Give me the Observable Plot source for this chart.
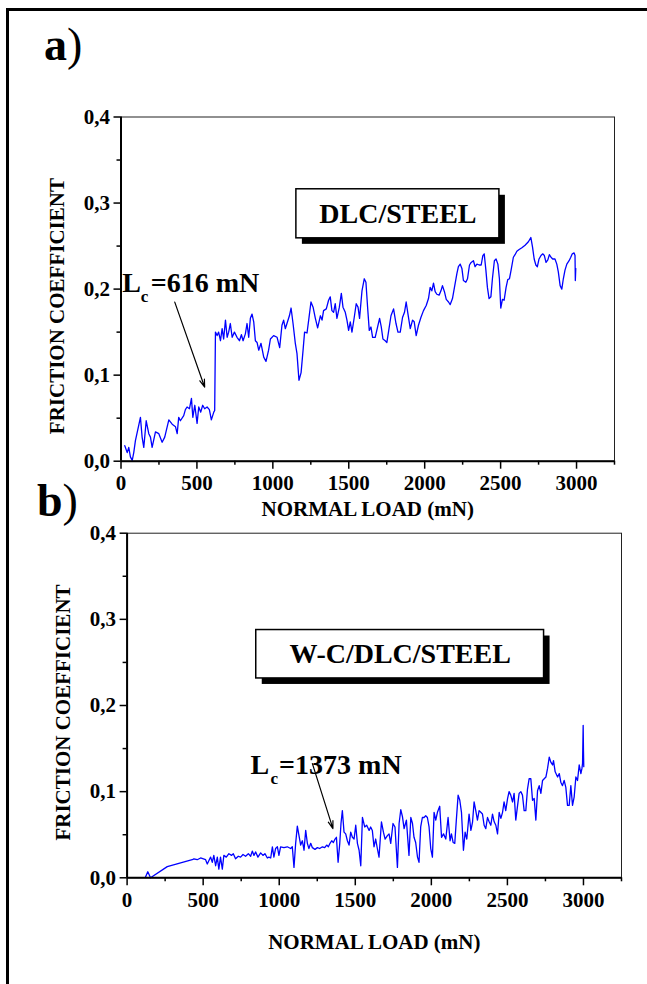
<!DOCTYPE html>
<html><head><meta charset="utf-8">
<script src="https://cdn.jsdelivr.net/npm/d3@7"></script>
<script src="https://cdn.jsdelivr.net/npm/@observablehq/plot@0.6"></script>
<style>
html,body{margin:0;background:#fff;overflow:hidden;width:647px;height:984px;}
#wrap{position:relative;width:647px;height:984px;overflow:hidden;background:#fff;font-family:"Liberation Serif","Times New Roman",serif;}
#bleft{position:absolute;left:6px;top:8px;width:3px;height:990px;background:#000;}
#btop{position:absolute;left:6px;top:8px;width:660px;height:3px;background:#000;}
.svgbox{position:absolute;left:0;width:647px;overflow:hidden;}
.panel{position:absolute;font-size:46px;font-weight:bold;line-height:46px;white-space:nowrap;}
.panel span{font-weight:normal;}
</style>
</head><body>
<div id="wrap">
  <div id="bleft"></div>
  <div id="btop"></div>
  <div class="svgbox" id="pa" style="top:0px;height:530px"></div>
  <div class="svgbox" id="pb" style="top:480px;height:504px"></div>
  <div class="panel" style="left:44px;top:22px">a<span>)</span></div>
  <div class="panel" style="left:37px;top:478px">b<span>)</span></div>
</div>
<script>
// ---- data: panel a (DLC/STEEL) ----
const loadA = [25,41,51,62,74,84,95,128,139,150,166,183,194,205,227,249,271,288,304,315,337,359,370,380,391,413,424,435,451,464,473,486,501,512,525,538,551,567,582,595,611,617,
622,633,643,655,666,676,688,699,709,720,732,747,764,780,793,804,819,830,841,852,863,874,885,896,907,922,940,955,972,
984,1005,1028,1045,1060,1071,1082,1093,1109,1120,1133,1148,1159,1172,1186,1199,1209,1225,1236,1251,1265,1280,1295,1313,1324,1334,1352,1367,1378,1389,1400,1411,1422,1438,1451,1462,1477,1488,1499,1510,1521,1536,1549,1561,1571,1587,1602,1613,1624,1635,1646,1657,1674,1690,1703,1714,1725,1740,1751,1765,1778,1795,1811,1824,1839,1854,1867,1878,1890,1905,1920,1931,1944,1959,1975,
1992,2010,2025,2036,2047,2058,2069,2080,2095,2107,2117,2130,2142,2157,2168,2183,2196,2212,2222,2234,2245,2255,2271,2282,2295,2306,2321,2332,2344,2359,2372,2383,2392,2403,2413,2424,2436,2446,2459,2470,2482,2492,2501,2512,2523,2536,2547,2558,2569,2584,2595,2607,2622,2640,2661,2683,2699,2710,2721,2732,2742,2753,2766,2778,2788,2799,2811,2821,2832,2843,2858,2870,2880,2892,2903,2913,2924,2936,2951,2962,2972,2984,2990,2992,2995];
const muA = [0.018,0.010,0.016,0.005,0.001,0.010,0.024,0.051,0.028,0.016,0.047,0.032,0.028,0.016,0.034,0.032,0.022,0.028,0.040,0.048,0.043,0.040,0.032,0.051,0.047,0.053,0.060,0.063,0.061,0.073,0.051,0.065,0.044,0.063,0.057,0.065,0.061,0.063,0.060,0.048,0.057,0.059,
0.150,0.146,0.150,0.140,0.154,0.142,0.164,0.144,0.150,0.160,0.144,0.150,0.144,0.140,0.147,0.140,0.148,0.160,0.144,0.166,0.171,0.162,0.140,0.138,0.129,0.137,0.121,0.116,0.129,
0.142,0.146,0.144,0.132,0.158,0.164,0.154,0.160,0.169,0.178,0.160,0.137,0.125,0.094,0.103,0.129,0.150,0.149,0.164,0.185,0.179,0.166,0.155,0.169,0.164,0.175,0.177,0.187,0.191,0.175,0.173,0.183,0.166,0.179,0.195,0.179,0.173,0.164,0.152,0.162,0.150,0.167,0.183,0.179,0.166,0.198,0.212,0.208,0.179,0.152,0.156,0.144,0.144,0.156,0.166,0.156,0.142,0.140,0.138,0.154,0.169,0.177,0.160,0.150,0.150,0.167,0.173,0.185,0.171,0.154,0.164,0.162,0.146,0.158,0.167,
0.175,0.181,0.189,0.202,0.198,0.207,0.197,0.194,0.193,0.198,0.204,0.197,0.188,0.185,0.182,0.189,0.202,0.218,0.226,0.229,0.224,0.210,0.208,0.212,0.228,0.231,0.233,0.226,0.229,0.228,0.228,0.239,0.241,0.222,0.202,0.189,0.191,0.212,0.233,0.235,0.229,0.212,0.178,0.188,0.187,0.202,0.211,0.212,0.222,0.237,0.240,0.244,0.246,0.248,0.251,0.255,0.260,0.249,0.235,0.228,0.226,0.235,0.239,0.241,0.239,0.231,0.234,0.240,0.237,0.235,0.235,0.229,0.220,0.204,0.200,0.212,0.222,0.229,0.233,0.237,0.241,0.242,0.239,0.210,0.224];

// ---- data: panel b (W-C/DLC/STEEL) ----
const loadB = [121,136,154,264,428,439,461,483,516,527,538,549,560,570,582,593,603,614,626,636,652,669,687,698,713,731,746,762,779,797,812,823,834,845,860,878,893,906,922,932,944,955,965,976,988,998,1009,1031,1053,1075,1086,1097,1108,1119,1130,1141,1152,1163,1174,1185,1195,1207,1218,1235,1251,1266,1284,1299,1312,1323,1334,1345,1356,1367,1376,1387,1398,1406,1415,1426,1437,1448,1459,1470,1481,1492,1503,1514,1525,1536,1547,1562,1575,1591,1601,1612,1623,1634,1645,1656,1672,
1685,1696,1711,1722,1733,1748,1761,1777,1788,1799,1810,1821,1836,1853,1865,1876,1886,1897,1909,1919,1930,1941,1952,1963,1974,1985,1996,2007,2018,2029,2040,2055,2067,2080,2095,2110,2123,2132,2143,2154,2165,2176,2187,2198,2211,2222,2233,2248,2260,2271,2281,2292,2303,2314,2325,2336,2347,2358,2369,2380,2391,2402,2413,2424,2435,2446,2457,2468,2478,2489,2501,2511,2522,2534,2544,2555,2567,2577,2588,2599,2610,2621,2632,2643,2654,2665,2676,2687,2698,2709,2720,2731,2742,2753,2764,2775,2786,2797,2803,2814,2830,2841,2851,2862,2873,2884,2895,2906,2917,2928,2939,2950,2961,2972,2983,2990,2994,2998,3000,3002];
const muB = [0.001,0.007,0.000,0.013,0.021,0.022,0.021,0.023,0.021,0.016,0.020,0.024,0.018,0.026,0.014,0.024,0.010,0.024,0.010,0.026,0.024,0.028,0.026,0.028,0.022,0.025,0.024,0.027,0.025,0.028,0.025,0.031,0.026,0.030,0.024,0.029,0.026,0.028,0.023,0.024,0.023,0.036,0.024,0.034,0.036,0.026,0.036,0.035,0.036,0.034,0.036,0.012,0.040,0.060,0.049,0.038,0.043,0.032,0.055,0.040,0.034,0.040,0.035,0.033,0.035,0.034,0.036,0.035,0.038,0.036,0.040,0.043,0.041,0.045,0.047,0.018,0.040,0.063,0.078,0.053,0.051,0.043,0.038,0.053,0.047,0.045,0.061,0.040,0.032,0.014,0.070,0.059,0.061,0.055,0.059,0.055,0.036,0.045,0.034,0.024,0.065,
0.053,0.045,0.049,0.051,0.040,0.063,0.059,0.012,0.063,0.079,0.071,0.057,0.067,0.026,0.070,0.063,0.047,0.041,0.024,0.018,0.059,0.070,0.070,0.072,0.070,0.059,0.034,0.024,0.076,0.067,0.076,0.083,0.047,0.051,0.045,0.070,0.043,0.051,0.041,0.040,0.069,0.096,0.090,0.076,0.032,0.053,0.045,0.074,0.055,0.065,0.088,0.078,0.067,0.078,0.076,0.074,0.061,0.057,0.070,0.065,0.061,0.074,0.065,0.061,0.051,0.076,0.069,0.076,0.088,0.078,0.092,0.100,0.096,0.088,0.098,0.067,0.084,0.098,0.100,0.096,0.078,0.078,0.103,0.115,0.115,0.090,0.092,0.067,0.101,0.107,0.098,0.113,0.115,0.117,0.127,0.140,0.134,0.131,0.136,0.123,0.117,0.121,0.111,0.107,0.113,0.105,0.084,0.084,0.107,0.084,0.094,0.117,0.113,0.131,0.121,0.127,0.133,0.177,0.148,0.129];

// ---- axes ----
const xMajor = [0,500,1000,1500,2000,2500,3000];
const xMinor = [250,750,1250,1750,2250,2750,3250];
const yMajor = [0,0.1,0.2,0.3,0.4];
const yMinor = [0.05,0.15,0.25,0.35];
const xTitle = "NORMAL LOAD (mN)";
const yTitle = "FRICTION COEFFICIENT";

// ---- annotations ----
const boxA = [{x1:1155, x2:2492, y1:0.259, y2:0.316, label:"DLC/STEEL"}];
const boxB = [{x1:849, x2:2741, y1:0.2314, y2:0.2876, label:"W-C/DLC/STEEL"}];
const lcA = [{x:8, y:0.1965, rest:"=616 mN"}];
const lcB = [{x:812, y:0.121, rest:"=1373 mN"}];
const arrowA = [{x1:354, y1:0.1849, x2:551, y2:0.086}];
const arrowB = [{x1:1218, y1:0.1326, x2:1353, y2:0.057}];

const serif = "Liberation Serif, Times New Roman, serif";

function makePanel(o) {
  const rows = o.load.map((l, i) => ({load: l, mu: o.mu[i]}));
  return Plot.plot({
    width: 647, height: o.height,
    marginLeft: o.ml, marginRight: o.mr, marginTop: o.mt, marginBottom: o.mb,
    style: {background: "transparent", overflow: "visible", fontFamily: serif, color: "black"},
    x: {domain: [0, 3250]},
    y: {domain: [0, 0.4]},
    marks: [
      Plot.frame({stroke: "#222", strokeWidth: 1}),
      Plot.line(rows, {x: "load", y: "mu", stroke: "#0000ff", strokeWidth: 1.3}),
      Plot.axisX({ticks: xMajor, tickSize: 8, tickPadding: 6, tickFormat: d => String(d), fontSize: 21, fontWeight: "bold", label: null, strokeWidth: 1.5}),
      Plot.axisX({ticks: xMinor, tickSize: 4, text: null, label: null, strokeWidth: 1.5}),
      Plot.axisY({ticks: yMajor, tickSize: 7, tickPadding: 4, tickFormat: d => d.toFixed(1).replace(".", ","), fontSize: 21, fontWeight: "bold", label: null, strokeWidth: 1.5}),
      Plot.axisY({ticks: yMinor, tickSize: 4, text: null, label: null, strokeWidth: 1.5}),
      Plot.ruleX([0], {stroke: "black", strokeWidth: 2}),
      Plot.ruleY([0], {stroke: "black", strokeWidth: 2}),
      Plot.rect(o.box, {x1: "x1", x2: "x2", y1: "y1", y2: "y2", fill: "black", dx: 6, dy: 6}),
      Plot.rect(o.box, {x1: "x1", x2: "x2", y1: "y1", y2: "y2", fill: "white", stroke: "black", strokeWidth: 1.5}),
      Plot.text(o.box, {x: d => (d.x1 + d.x2) / 2, y: d => (d.y1 + d.y2) / 2, text: "label", fontSize: 28, fontWeight: "bold", fill: "black", lineAnchor: "middle"}),
      Plot.arrow(o.arrow, {x1: "x1", y1: "y1", x2: "x2", y2: "y2", stroke: "black", strokeWidth: 1.2, headLength: 10, headAngle: 35}),
      Plot.text(o.lc, {x: "x", y: "y", text: () => "L", fontSize: 28, fontWeight: "bold", textAnchor: "start", lineAnchor: "bottom", fill: "black"}),
      Plot.text(o.lc, {x: "x", y: "y", text: () => "c", fontSize: 17, fontWeight: "bold", textAnchor: "start", lineAnchor: "bottom", dx: o.cdx, dy: 10, fill: "black"}),
      Plot.text(o.lc, {x: "x", y: "y", text: "rest", fontSize: 28, fontWeight: "bold", textAnchor: "start", lineAnchor: "bottom", dx: 28.5, fill: "black"}),
      Plot.text([xTitle], {text: d => d, frameAnchor: "bottom", lineAnchor: "middle", textAnchor: "middle", dy: o.xtDy, fontSize: 21, fontWeight: "bold", fill: "black"}),
      Plot.text([yTitle], {text: d => d, frameAnchor: "left", rotate: -90, lineAnchor: "middle", textAnchor: "middle", dx: o.ytDx, dy: o.ytDy, fontSize: 21, fontWeight: "bold", fill: "black"})
    ]
  });
}

document.getElementById("pa").appendChild(makePanel({
  load: loadA, mu: muA, height: 530, ml: 120.5, mr: 33, mt: 116.5, mb: 69.3,
  box: boxA, lc: lcA, arrow: arrowA, cdx: 18.5, xtDy: 48, ytDx: -63.5, ytDy: 17
}));
document.getElementById("pb").appendChild(makePanel({
  load: loadB, mu: muB, height: 504, ml: 126.6, mr: 26, mt: 52.7, mb: 106.7,
  box: boxB, lc: lcB, arrow: arrowB, cdx: 20, xtDy: 64, ytDx: -63.6, ytDy: 7
}));
</script>
</body></html>
